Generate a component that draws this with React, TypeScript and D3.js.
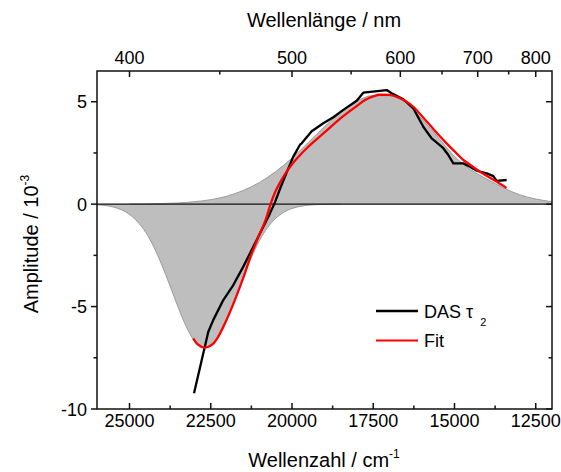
import React from "react";
import * as d3 from "d3";

// Wavenumber (cm^-1) / amplitude (10^-3) pairs
const dasNu = [23015, 22575, 22421, 22114, 21806, 21498, 21292, 21086, 20883, 20677, 20523, 20369, 20163, 19960, 19754, 19702, 19394, 19037, 18729, 18421, 18009, 17806, 17086, 16932, 16575, 16268, 15960, 15702, 15345, 15191, 15037, 14729, 14523, 14317, 14009, 13806, 13702, 13394];
const dasVal = [-9.23, -6.23, -5.65, -4.68, -3.95, -3.05, -2.4, -1.75, -1.1, -0.45, 0.1, 0.75, 1.55, 2.32, 2.9, 2.97, 3.56, 3.95, 4.24, 4.6, 5.05, 5.44, 5.57, 5.41, 5.12, 4.68, 3.78, 3.21, 2.73, 2.4, 1.99, 1.99, 1.83, 1.63, 1.5, 1.37, 1.14, 1.18];

const fitNu = [23040, 22900, 22680, 22450, 22300, 22000, 21750, 21500, 21250, 21000, 20800, 20660, 20500, 20370, 20200, 20000, 19750, 19500, 19000, 18500, 18000, 17750, 17500, 17300, 17000, 16750, 16500, 16250, 16000, 15750, 15500, 15250, 15000, 14750, 14500, 14250, 14000, 13750, 13400];
const fitVal = [-6.55, -6.85, -7.0, -6.85, -6.55, -5.6, -4.65, -3.6, -2.45, -1.47, -0.72, 0.0, 0.65, 1.05, 1.5, 1.95, 2.4, 2.8, 3.5, 4.2, 4.8, 5.08, 5.26, 5.34, 5.33, 5.22, 5.02, 4.73, 4.29, 3.85, 3.4, 2.98, 2.58, 2.19, 1.9, 1.62, 1.37, 1.14, 0.79];

const negNu = [26000, 25500, 25000, 24750, 24500, 24250, 24000, 23750, 23500, 23250, 23000, 22750, 22500, 22250, 22000, 21750, 21500, 21250, 21000, 20750, 20500, 20250, 20000, 19750, 19500, 19000, 18500];
const negVal = [-0.03, -0.14, -0.5, -0.86, -1.38, -2.09, -2.99, -4.0, -5.05, -5.99, -6.69, -7.02, -6.93, -6.44, -5.62, -4.62, -3.57, -2.6, -1.77, -1.14, -0.69, -0.39, -0.21, -0.11, -0.05, -0.01, 0];

const posNu = [25000, 24500, 24000, 23500, 23000, 22500, 22000, 21500, 21000, 20500, 20000, 19500, 19000, 18500, 18000, 17500, 17000, 16500, 16000, 15500, 15000, 14500, 14000, 13500, 13000, 12500, 12000];
const posVal = [0, 0.01, 0.03, 0.06, 0.12, 0.22, 0.39, 0.67, 1.06, 1.59, 2.25, 3.01, 3.78, 4.49, 5.03, 5.3, 5.29, 4.95, 4.15, 3.25, 2.33, 1.68, 1.22, 0.8, 0.46, 0.25, 0.12];

const bottomTicks = [25000, 22500, 20000, 17500, 15000, 12500];
const bottomMinor = [23750, 21250, 18750, 16250, 13750];
const topTicks = [400, 500, 600, 700, 800];
const topMinor = [450, 550, 650, 750];
const yTicks = [5, 0, -5, -10];
const yMinor = [2.5, -2.5, -7.5];

const FONT = "'Liberation Sans', Arial, Helvetica, sans-serif";

export default function App() {
  const L = 97, R = 552, T = 71, B = 409;
  const x = d3.scaleLinear().domain([26000, 12000]).range([L, R]);
  const y = d3.scaleLinear().domain([-10, 6.5]).range([B, T]);

  const zip = (a: number[], b: number[]) => a.map((n, i) => ({ nu: n, v: b[i] }));
  const das = zip(dasNu, dasVal);
  const fit = zip(fitNu, fitVal);
  const neg = zip(negNu, negVal);
  const pos = zip(posNu, posVal);

  const area = d3
    .area<{ nu: number; v: number }>()
    .x((d) => x(d.nu))
    .y0(y(0))
    .y1((d) => y(d.v))
    .curve(d3.curveMonotoneX);
  const edge = d3
    .line<{ nu: number; v: number }>()
    .x((d) => x(d.nu))
    .y((d) => y(d.v))
    .curve(d3.curveMonotoneX);
  const lin = d3
    .line<{ nu: number; v: number }>()
    .x((d) => x(d.nu))
    .y((d) => y(d.v));

  const nm2x = (nm: number) => x(1e7 / nm);

  return (
    <svg width={561} height={472} style={{ position: "absolute", left: 0, top: 0, background: "#fff" }}>
      <defs>
        <clipPath id="plot">
          <rect x={L} y={T} width={R - L} height={B - T} />
        </clipPath>
      </defs>
      <g clipPath="url(#plot)">
        <path d={area(pos) || ""} fill="#bebebe" />
        <path d={area(neg) || ""} fill="#bebebe" />
        <path d={edge(pos) || ""} fill="none" stroke="#9a9a9a" strokeWidth={1} />
        <path d={edge(neg) || ""} fill="none" stroke="#9a9a9a" strokeWidth={1} />
        <line x1={L} x2={R} y1={y(0)} y2={y(0)} stroke="#111" strokeWidth={1.3} />
        <path d={lin(das) || ""} fill="none" stroke="#000" strokeWidth={2.3} strokeLinejoin="round" />
        <path d={edge(fit) || ""} fill="none" stroke="#f00" strokeWidth={2.3} />
      </g>

      {/* frame */}
      <rect x={L} y={T} width={R - L} height={B - T} fill="none" stroke="#111" strokeWidth={1.5} />

      {/* bottom axis ticks (inward) */}
      {bottomTicks.map((t) => (
        <g key={"b" + t}>
          <line x1={x(t)} x2={x(t)} y1={B} y2={B - 6} stroke="#111" strokeWidth={1.5} />
          <text x={x(t)} y={427} textAnchor="middle" fontSize={18} fontFamily={FONT} fill="#000">
            {t}
          </text>
        </g>
      ))}
      {bottomMinor.map((t) => (
        <line key={"bm" + t} x1={x(t)} x2={x(t)} y1={B} y2={B - 3.5} stroke="#111" strokeWidth={1.5} />
      ))}

      {/* top axis (wavelength) */}
      {topTicks.map((t) => (
        <g key={"t" + t}>
          <line x1={nm2x(t)} x2={nm2x(t)} y1={T} y2={T + 6} stroke="#111" strokeWidth={1.5} />
          <text x={nm2x(t)} y={64} textAnchor="middle" fontSize={18} fontFamily={FONT} fill="#000">
            {t}
          </text>
        </g>
      ))}
      {topMinor.map((t) => (
        <line key={"tm" + t} x1={nm2x(t)} x2={nm2x(t)} y1={T} y2={T + 3.5} stroke="#111" strokeWidth={1.5} />
      ))}

      {/* left axis (outward) and right axis (inward) */}
      {yTicks.map((t) => (
        <g key={"y" + t}>
          <line x1={L - 6} x2={L} y1={y(t)} y2={y(t)} stroke="#111" strokeWidth={1.5} />
          <line x1={R - 6} x2={R} y1={y(t)} y2={y(t)} stroke="#111" strokeWidth={1.5} />
          <text x={87} y={y(t) + 6.5} textAnchor="end" fontSize={18} fontFamily={FONT} fill="#000">
            {t}
          </text>
        </g>
      ))}
      {yMinor.map((t) => (
        <g key={"ym" + t}>
          <line x1={L - 3.5} x2={L} y1={y(t)} y2={y(t)} stroke="#111" strokeWidth={1.5} />
          <line x1={R - 3.5} x2={R} y1={y(t)} y2={y(t)} stroke="#111" strokeWidth={1.5} />
        </g>
      ))}

      {/* axis titles */}
      <text x={324} y={27} textAnchor="middle" fontSize={20} fontFamily={FONT} fill="#000">
        Wellenlänge / nm
      </text>
      <text x={324} y={467} textAnchor="middle" fontSize={20} fontFamily={FONT} fill="#000">
        Wellenzahl / cm
        <tspan fontSize={12} dy={-9}>-1</tspan>
      </text>
      <text transform={`translate(38, ${(T + B) / 2 + 4}) rotate(-90)`} textAnchor="middle" fontSize={20} fontFamily={FONT} fill="#000">
        Amplitude / 10
        <tspan fontSize={12} dy={-9}>-3</tspan>
      </text>

      {/* legend */}
      <line x1={376} x2={418} y1={311} y2={311} stroke="#000" strokeWidth={2.6} />
      <text x={424} y={317.5} fontSize={18} fontFamily={FONT} fill="#000">
        DAS τ
        <tspan fontSize={11} dx={7} dy={8}>2</tspan>
      </text>
      <line x1={376} x2={418} y1={340.5} y2={340.5} stroke="#f00" strokeWidth={2} />
      <text x={424} y={347} fontSize={18} fontFamily={FONT} fill="#000">
        Fit
      </text>
    </svg>
  );
}
